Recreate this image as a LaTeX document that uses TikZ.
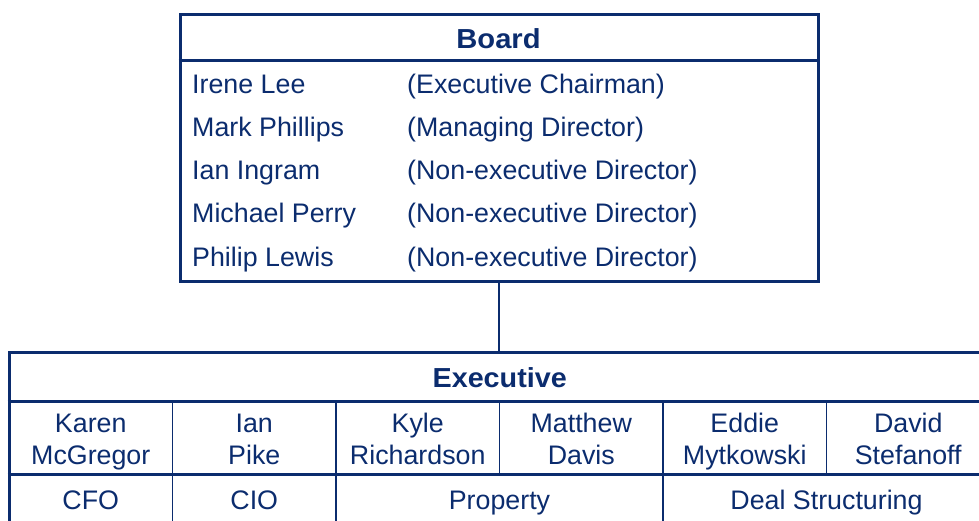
\documentclass[tikz,border=0pt]{standalone}
\usepackage{fontspec}
\setmainfont{Liberation Sans}
\usetikzlibrary{calc, positioning}
\definecolor{navy}{HTML}{0B2C6E}

\begin{document}
\begin{tikzpicture}[x=1pt, y=-1pt, font=\fontsize{26.8}{32}\selectfont, text=navy,
                frame/.style={draw=navy, line width=3pt, inner sep=0pt},
                cell/.style={draw=navy, line width=1.5pt, inner sep=0pt, minimum height=73pt},
                role/.style={draw=navy, line width=1.5pt, inner sep=0pt, minimum height=49pt},
                head/.style={anchor=base, font=\fontsize{27.5}{32}\selectfont\bfseries}]
            \useasboundingbox (0,0) rectangle (979,521);
            \clip (0,0) rectangle (979,521);
            % board
            \node[frame, minimum width=638pt, minimum height=266pt] (board) at (499,148) {};
            \draw[navy, line width=3pt] (board.west |- 0,61) -- (board.east |- 0,61);
            \node[head] (boardhead) at (498.5,48.5) {\scalebox{1.06}[1]{Board}};
            \foreach \n/\r [count=\i] in {{Irene Lee}/{(Executive Chairman)}, {Mark Phillips}/{(Managing Director)},
                    {Ian Ingram}/{(Non-executive Director)}, {Michael Perry}/{(Non-executive Director)},
                    {Philip Lewis}/{(Non-executive Director)}} {
                \node[anchor=base west, inner sep=0pt] (name\i) at (192, 94+43*\i-43) {\n};
                \node[anchor=base west, inner sep=0pt] (pos\i) at (407, 94+43*\i-43) {\r};
            }
            % executive
            \foreach \a/\b [count=\i] in {Karen/McGregor, Ian/Pike, Kyle/Richardson, Matthew/Davis,
                    Eddie/Mytkowski, David/Stefanoff} {
                \node[cell, minimum width=163.5pt] (cell\i) at (9+163.5*\i-81.75, 437.5) {};
                \node[align=center, inner sep=0pt] (person\i) at ($(cell\i.center)+(0,4.6)$) {\strut\a\\\strut\b};
            }
            \node[role, minimum width=163.5pt] (cfo) at (90.75,498.5) {};
            \node[role, minimum width=163.5pt] (cio) at (254.25,498.5) {};
            \node[role, minimum width=327pt] (property) at (499.5,498.5) {};
            \node[role, minimum width=327pt] (deal) at (826.5,498.5) {};
            \foreach \c/\t in {cfo/CFO, cio/CIO, property/Property, deal/Deal Structuring}
                \node[anchor=base, inner sep=0pt] at ($(\c.center)+(0,11)$) {\t};
            \node[frame, minimum width=981pt, minimum height=171pt] (exec) at (499.5,437.5) {};
            \draw[navy, line width=3pt] (exec.west |- 0,401) -- (exec.east |- 0,401);
            \draw[navy, line width=3pt] (exec.west |- 0,474) -- (exec.east |- 0,474);
            \node[head] (exechead) at (499.7,387.5) {\scalebox{1.045}[1]{Executive}};
            \draw[navy, line width=1.5pt] (board.south) -- (exec.north -| board.south);
        \end{tikzpicture}
\end{document}
